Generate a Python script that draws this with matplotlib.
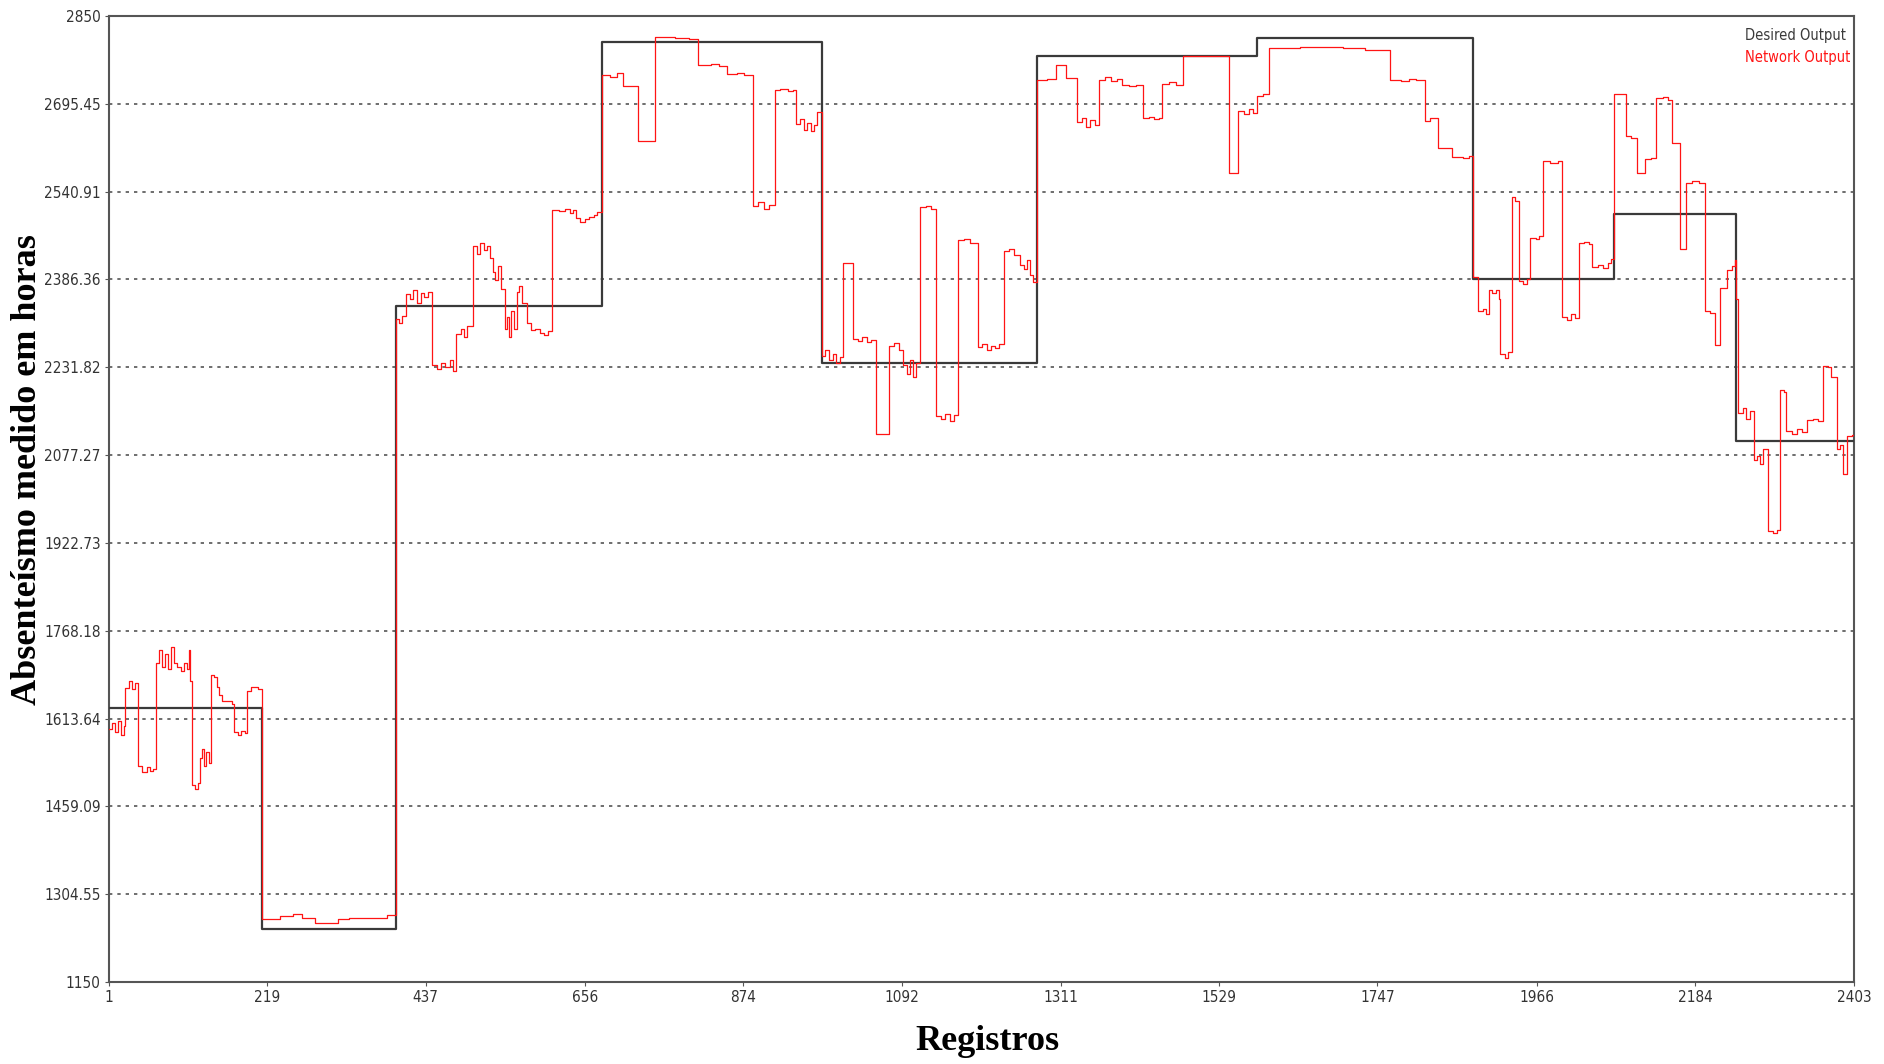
import matplotlib
matplotlib.use("Agg")
import matplotlib.pyplot as plt
from matplotlib.ticker import FixedLocator
from matplotlib import font_manager

# ---- data ----
x_ticks = [1, 219, 437, 656, 874, 1092, 1311, 1529, 1747, 1966, 2184, 2403]
y_ticks = [1150, 1304.55, 1459.09, 1613.64, 1768.18, 1922.73, 2077.27,
           2231.82, 2386.36, 2540.91, 2695.45, 2850]
y_tick_labels = ["1150", "1304.55", "1459.09", "1613.64", "1768.18", "1922.73",
                 "2077.27", "2231.82", "2386.36", "2540.91", "2695.45", "2850"]

desired_x = [1, 211, 396, 679, 982, 1279, 1581, 1878, 2072, 2241, 2403]
desired_y = [1632, 1243, 2339, 2805, 2240, 2779, 2812, 2388, 2501, 2102, 2102]

network_x = [
    1, 5, 9, 13, 17, 21, 23, 28, 33, 37, 41, 47, 53, 58, 62,
    66, 70, 74, 78, 82, 86, 90, 95, 100, 104, 108, 111, 113,
    115, 120, 124, 126, 129, 132, 135, 138, 141, 142, 146, 150, 153,
    156, 165, 170, 173, 178, 183, 188, 191, 196, 202, 206,
    211, 236, 254, 266, 284, 316, 332, 383,
    396, 400, 405, 410, 415, 420, 425, 430, 435, 440,
    445, 452, 458, 464, 470, 475, 479, 485, 490, 494,
    502, 507, 512, 517, 522, 526, 529, 533, 537, 541,
    546, 549, 552, 555, 558, 562, 566, 570,
    576, 582, 588, 594, 600, 605, 611, 620, 628, 636, 640,
    644, 650, 656, 662, 668, 673,
    679, 690, 700, 709, 729, 752, 780, 800, 812, 830, 840,
    851, 865, 875, 887, 895, 903, 910, 918, 925, 935, 942,
    947, 952, 957, 962, 967, 971, 975,
    982, 987, 992, 997, 1002, 1007, 1012, 1025, 1032, 1038, 1044, 1050,
    1057, 1075, 1082, 1088, 1094, 1099, 1104, 1108, 1112,
    1117, 1125, 1132, 1139, 1146, 1152, 1158, 1164,
    1170, 1178, 1186, 1197, 1203, 1209, 1215, 1221, 1226,
    1233, 1240, 1247, 1255, 1260, 1265, 1269, 1273,
    1279, 1292, 1305, 1319, 1333, 1340, 1346, 1352, 1358,
    1364, 1372, 1380, 1388, 1395, 1405, 1415, 1424, 1432, 1440, 1446,
    1450, 1460, 1470, 1480, 1510, 1530, 1542, 1555, 1563, 1570, 1576,
    1581, 1590, 1598, 1640, 1700, 1730, 1755,
    1764, 1780, 1790, 1800, 1812, 1820, 1831, 1849, 1865, 1873,
    1878, 1886, 1892, 1896, 1900, 1905, 1910, 1914, 1916, 1922, 1927,
    1932, 1937, 1942, 1948, 1953, 1957, 1965, 1970, 1975, 1985, 1995,
    2001, 2008, 2014, 2019, 2024, 2032, 2038, 2042, 2050, 2058, 2065, 2069,
    2072, 2082, 2089, 2096, 2104, 2115, 2123, 2131, 2140, 2147, 2152,
    2164, 2172, 2180, 2190, 2198, 2205, 2212, 2219, 2228, 2235, 2239,
    2241, 2244, 2250, 2255, 2260, 2265, 2270, 2274, 2278,
    2285, 2292, 2297, 2301, 2306, 2310, 2318, 2325, 2332,
    2338, 2346, 2354, 2360, 2367, 2372, 2379, 2384, 2388, 2393, 2400, 2403]
network_y = [
    1596, 1605, 1590, 1610, 1585, 1600, 1668, 1680, 1665, 1676, 1530, 1520, 1528, 1522, 1525,
    1712, 1735, 1705, 1728, 1700, 1740, 1712, 1705, 1698, 1712, 1700, 1735, 1680,
    1496, 1490, 1500, 1545, 1560, 1530, 1555, 1535, 1548, 1690, 1686, 1670, 1655,
    1645, 1644, 1640, 1590, 1585, 1592, 1588, 1662, 1670, 1670, 1665,
    1260, 1266, 1269, 1263, 1253, 1260, 1262, 1268,
    2317, 2310, 2322, 2360, 2352, 2368, 2345, 2362, 2355, 2365,
    2235, 2228, 2240, 2232, 2245, 2225, 2290, 2300, 2285, 2305,
    2445, 2432, 2450, 2438, 2446, 2425, 2400, 2385, 2410, 2370,
    2300, 2320, 2285, 2330, 2300, 2365, 2375, 2345,
    2310, 2298, 2300, 2292, 2288, 2295, 2508, 2506, 2510, 2503, 2508,
    2495, 2488, 2492, 2496, 2500, 2505,
    2747, 2743, 2750, 2726, 2630, 2813, 2812, 2810, 2764, 2766, 2762,
    2748, 2750, 2746, 2516, 2522, 2510, 2518, 2719, 2722, 2718, 2720,
    2660, 2668, 2650, 2662, 2648, 2658, 2681,
    2252, 2262, 2245, 2255, 2240, 2250, 2416, 2282, 2278, 2285, 2276, 2280,
    2115, 2270, 2275, 2262, 2235, 2220, 2245, 2215, 2240,
    2514, 2516, 2510, 2146, 2140, 2150, 2138, 2148,
    2455, 2458, 2450, 2267, 2272, 2262, 2270, 2265, 2272,
    2437, 2440, 2430, 2411, 2405, 2420, 2395, 2382,
    2738, 2740, 2763, 2741, 2663, 2670, 2655, 2667, 2658,
    2738, 2742, 2735, 2740, 2728, 2726, 2729, 2670, 2673, 2668, 2671,
    2731, 2733, 2729, 2779, 2779, 2780, 2574, 2682, 2678, 2686, 2680,
    2710, 2712, 2793, 2795, 2793, 2790, 2791,
    2738, 2736, 2740, 2738, 2666, 2670, 2617, 2601, 2600, 2604,
    2390, 2330, 2335, 2326, 2367, 2362, 2368, 2352, 2255, 2248, 2258,
    2532, 2525, 2384, 2378, 2388, 2460, 2458, 2462, 2594, 2592, 2595,
    2321, 2315, 2325, 2318, 2450, 2452, 2448, 2409, 2412, 2406, 2415, 2422,
    2713, 2713, 2639, 2636, 2573, 2598, 2600, 2705, 2708, 2702, 2627,
    2440, 2556, 2560, 2556, 2331, 2328, 2271, 2372, 2403, 2410, 2420,
    2352, 2151, 2160, 2140, 2155, 2069, 2075, 2062, 2088,
    1944, 1940, 1946, 2192, 2188, 2120, 2115, 2123, 2118,
    2139, 2141, 2137, 2234, 2232, 2214, 2088, 2095, 2044, 2110, 2112, 2112]

# ---- figure ----
fig = plt.figure(figsize=(18.84, 10.64), dpi=100)
ax = fig.add_axes([109 / 1884, 1 - 982 / 1064, (1854 - 109) / 1884, (982 - 16) / 1064])

# condensed upright sans if available, otherwise plain DejaVu Sans at a smaller size
names = {f.name for f in font_manager.fontManager.ttflist}
cond = [f for f in font_manager.fontManager.ttflist
        if f.name == "DejaVu Sans" and f.stretch == "condensed"
        and f.style == "normal" and f.weight in (400, "normal", "regular", "book")]
if "Liberation Sans Narrow" in names:
    tick_fp = font_manager.FontProperties(family="Liberation Sans Narrow", size=11.5)
elif cond:
    tick_fp = font_manager.FontProperties(fname=cond[0].fname, size=11)
else:
    tick_fp = font_manager.FontProperties(family="DejaVu Sans", size=9.8)

ax.plot(desired_x, desired_y, drawstyle="steps-post", color="#3a3a3a", lw=1.6,
        label="Desired Output", zorder=3)
ax.plot(network_x, network_y, drawstyle="steps-post", color="#ff1414", lw=0.9,
        label="Network Output", zorder=4)

ax.set_xlim(1, 2403)
ax.set_ylim(1150, 2850)
ax.xaxis.set_major_locator(FixedLocator(x_ticks))
ax.set_xticklabels([str(v) for v in x_ticks])
ax.yaxis.set_major_locator(FixedLocator(y_ticks))
ax.set_yticklabels(y_tick_labels)

for lab in ax.get_xticklabels() + ax.get_yticklabels():
    lab.set_fontproperties(tick_fp)
    lab.set_color("#333333")

ax.tick_params(axis="both", length=3, width=0.8, color="#555555", pad=3)

# dotted horizontal grid at inner ticks
for yv in y_ticks[1:-1]:
    ax.axhline(yv, color="#555555", lw=1.2, ls=(0, (2, 3)), zorder=1)

for sp in ax.spines.values():
    sp.set_color("#555555")
    sp.set_linewidth(1.5)

leg_fp = tick_fp.copy()
leg_fp.set_size(tick_fp.get_size() - 0.5)
leg = ax.legend(loc="upper right", bbox_to_anchor=(0.998, 0.988), frameon=False,
                handlelength=0, handletextpad=0, labelcolor="linecolor",
                borderaxespad=0, borderpad=0, labelspacing=0.5, prop=leg_fp)
for h in leg.legend_handles:
    h.set_visible(False)

fig.text(28 / 1884, 1 - 470 / 1064, "Absenteísmo medido em horas", rotation=90,
         ha="center", va="center", family="Liberation Serif", fontweight="bold",
         fontsize=26)
fig.text(987 / 1884, 1 - 1042 / 1064, "Registros", ha="center", va="center",
         family="Liberation Serif", fontweight="bold", fontsize=26)

fig.savefig("out.png", dpi=100)
